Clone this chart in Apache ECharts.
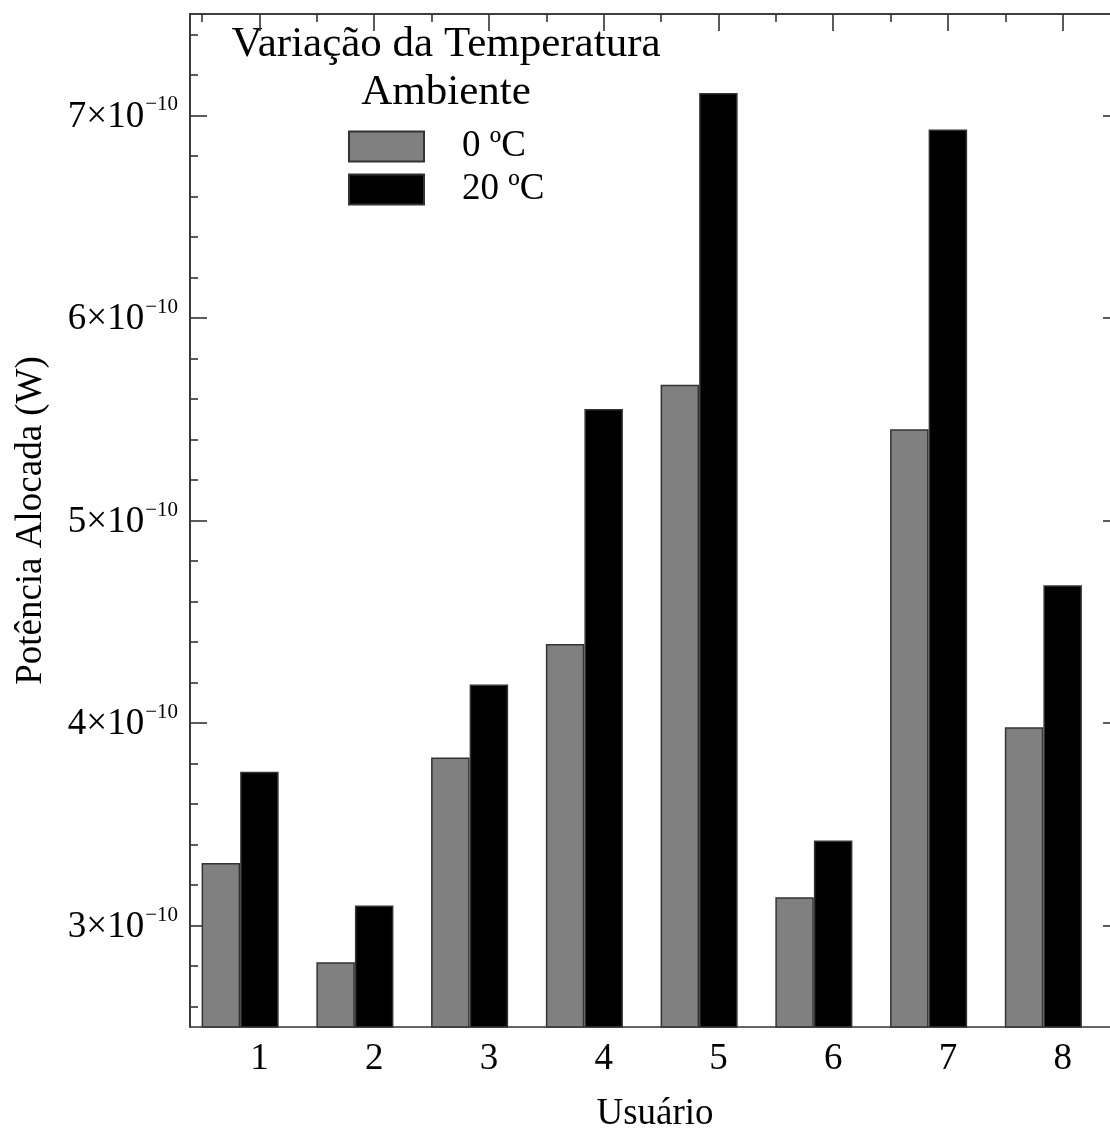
<!DOCTYPE html>
<html><head><meta charset="utf-8">
<script src="https://cdn.jsdelivr.net/npm/echarts@6/dist/echarts.min.js"></script>
<style>html,body{margin:0;padding:0;background:#fff}#c{width:1110px;height:1128px}</style>
</head><body><div id="c"></div><script>
// Categories (Usuário)
const usuarios = [1, 2, 3, 4, 5, 6, 7, 8];
// Potência alocada, in units of 1e-10 W
const pot0C  = [3.31, 2.82, 3.83, 4.39, 5.67, 3.14, 5.45, 3.98];
const pot20C = [3.76, 3.10, 4.19, 5.55, 7.11, 3.42, 6.93, 4.68];
const serieNomes = ['0 ºC', '20 ºC'];
const yMajorTicks = [3, 4, 5, 6, 7];
const yMinorTicks = [2.6, 2.8, 3.2, 3.4, 3.6, 3.8, 4.2, 4.4, 4.6, 4.8, 5.2, 5.4, 5.6, 5.8, 6.2, 6.4, 6.6, 6.8, 7.2, 7.4];
const titulo = 'Variação da Temperatura\nAmbiente';

const FONT = '"Liberation Serif", "Times New Roman", serif';
const AX = '#333';
const xMin = 0.395, xMax = 8.5, yMin = 2.5, yMax = 7.5;
const barW = 38.5;                 // px
const grayShift = 0.336;           // gray bar sits one bar-width left of the black bar

const xMinorTicks = [];
usuarios.forEach(u => xMinorTicks.push(u - 0.5));
xMinorTicks.push(usuarios[usuarios.length - 1] + 0.5);

const chart = echarts.init(document.getElementById('c'), null, {renderer: 'canvas'});
const baseX = {type: 'value', min: xMin, max: xMax, splitLine: {show: false},
  axisLine: {show: true, lineStyle: {color: AX, width: 1.6}}};
const baseY = {type: 'value', min: yMin, max: yMax, splitLine: {show: false},
  axisLine: {show: true, lineStyle: {color: AX, width: 1.6}}};

chart.setOption({
  animation: false,
  backgroundColor: '#fff',
  grid: {left: 190, top: 14, right: -10, bottom: 101, containLabel: false, outerBoundsMode: 'none'},
  xAxis: [
    Object.assign({}, baseX, {position: 'bottom',
      name: 'Usuário', nameLocation: 'middle', nameGap: 69,
      nameTextStyle: {fontFamily: FONT, fontSize: 37, color: '#000'},
      axisTick: {show: false},
      axisLabel: {customValues: usuarios, margin: 14, fontFamily: FONT, fontSize: 37, color: '#000',
        formatter: v => String(Math.round(v))}}),
    Object.assign({}, baseX, {position: 'top',
      axisTick: {show: true, inside: true, length: 17, customValues: usuarios, lineStyle: {color: AX, width: 1.6}},
      axisLabel: {show: false}}),
    Object.assign({}, baseX, {position: 'top',
      axisTick: {show: true, inside: true, length: 8, customValues: xMinorTicks, lineStyle: {color: AX, width: 1.6}},
      axisLabel: {show: false}})
  ],
  yAxis: [
    Object.assign({}, baseY, {position: 'left',
      name: 'Potência Alocada (W)', nameLocation: 'middle', nameGap: 140, nameRotate: 90,
      nameTextStyle: {fontFamily: FONT, fontSize: 37, color: '#000'},
      axisTick: {show: true, inside: true, length: 17, customValues: yMajorTicks, lineStyle: {color: AX, width: 1.6}},
      axisLabel: {customValues: yMajorTicks, margin: 12, fontFamily: FONT, color: '#000',
        formatter: v => '{m|' + Math.round(v) + '×10}{s|−10}',
        rich: {
          m: {fontFamily: FONT, fontSize: 37, color: '#000', verticalAlign: 'bottom', lineHeight: 40},
          s: {fontFamily: FONT, fontSize: 21, color: '#000', verticalAlign: 'bottom', lineHeight: 40, padding: [0, 0, 20, 1]}
        }}}),
    Object.assign({}, baseY, {position: 'left',
      axisTick: {show: true, inside: true, length: 8, customValues: yMinorTicks, lineStyle: {color: AX, width: 1.6}},
      axisLabel: {show: false}}),
    Object.assign({}, baseY, {position: 'right',
      axisTick: {show: true, inside: true, length: 17, customValues: yMajorTicks, lineStyle: {color: AX, width: 1.6}},
      axisLabel: {show: false}})
  ],
  legend: {
    orient: 'vertical', left: 343, top: 123, itemWidth: 75, itemHeight: 30, itemGap: 6,
    icon: 'rect', data: serieNomes,
    textStyle: {fontFamily: FONT, fontSize: 37, color: '#000', padding: [0, 0, 0, 33]}
  },
  graphic: [{
    type: 'text', x: 446, y: 21, silent: true,
    style: {text: titulo, fontFamily: FONT, fontSize: 43, lineHeight: 48, textAlign: 'center', fill: '#000'}
  }],
  series: [
    {name: serieNomes[0], type: 'bar', xAxisIndex: 0, yAxisIndex: 0, barWidth: barW, barGap: '-100%',
      itemStyle: {color: '#808080', borderColor: '#333', borderWidth: 1.5},
      data: usuarios.map((u, i) => [u - grayShift, pot0C[i]])},
    {name: serieNomes[1], type: 'bar', xAxisIndex: 0, yAxisIndex: 0, barWidth: barW, barGap: '-100%',
      itemStyle: {color: '#000000', borderColor: '#333', borderWidth: 1.5},
      data: usuarios.map((u, i) => [u, pot20C[i]])}
  ]
});
</script></body></html>
